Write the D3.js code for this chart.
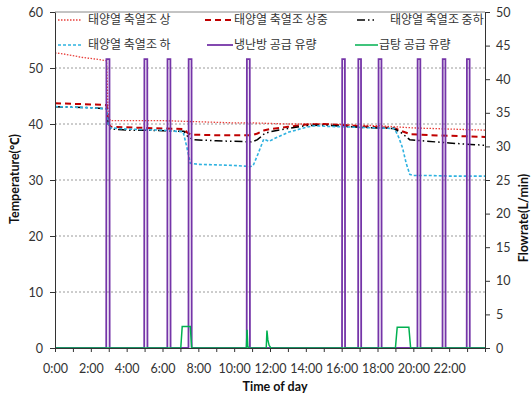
<!DOCTYPE html>
<html>
<head>
<meta charset="utf-8">
<script src="https://cdn.jsdelivr.net/npm/d3@7"></script>
<style>
  body { margin: 0; background: #fff; }
  svg { display: block; }
  .axis text { font-family: Lato, "Noto Sans", sans-serif; font-size: 12.5px; fill: #333; }
  .axis path, .axis line { stroke: #333; }
  .legend text { font-family: "Noto Sans CJK KR", sans-serif; font-size: 12px; fill: #333; }
  .title { font-family: Lato, "Noto Sans", "Noto Sans CJK KR", sans-serif; font-size: 12.5px; font-weight: bold; fill: #111; }
</style>
</head>
<body>
<div class="chart"></div>
<script>
// temperatures (℃) vs hour of day
const tankTop = [[0,52.7],[0.5,52.5],[1,52.2],[1.5,51.9],[2,51.7],[2.5,51.5],[2.88,51.3],[2.97,41.2],[3.1,40.6],[4,40.6],[5,40.6],[6,40.6],[7,40.5],[8,40.4],[9,40.3],[10,40.2],[11,40.2],[12,40.1],[13,40.0],[14,40.0],[15,40.0],[16,39.9],[17,39.8],[18,39.7],[19,39.5],[20,39.3],[21,39.2],[22,39.1],[23,39.0],[24,38.9]];
const tankUpperMid = [[0,43.7],[1,43.6],[2,43.5],[2.88,43.4],[2.97,40.2],[3.1,39.5],[4,39.4],[5,39.3],[6,39.2],[7.2,39.1],[7.4,38.4],[7.6,38.1],[9,38.0],[10,38.0],[11,38.0],[11.3,38.3],[11.7,38.9],[12,39.1],[13,39.5],[14,39.9],[15,40.0],[16,39.8],[17,39.6],[18,39.4],[18.9,39.3],[19.3,38.8],[19.8,38.2],[21,38.0],[22,37.9],[23,37.8],[24,37.7]];
const tankLowerMid = [[0,43.1],[1,43.0],[2,42.9],[2.88,42.7],[2.97,40.0],[3.1,39.1],[4,38.9],[5,38.9],[6,38.8],[7.2,38.7],[7.4,37.8],[7.7,37.2],[9,37.0],[10,36.9],[11,36.8],[11.3,37.2],[11.7,38.3],[12,38.6],[13,39.2],[14,39.7],[15,39.8],[16,39.6],[17,39.4],[18,39.3],[18.9,39.2],[19.3,38.5],[19.8,37.2],[20.5,37.0],[22,36.6],[23,36.4],[24,36.2]];
const tankBottom = [[0,43.1],[1,43.0],[2,42.9],[2.88,42.7],[2.97,40.0],[3.1,39.3],[4,39.1],[5,39.0],[6,38.9],[7.15,38.6],[7.35,36.0],[7.55,33.0],[8,32.8],[9,32.7],[10,32.6],[10.9,32.4],[11.05,32.5],[11.35,34.8],[11.65,37.3],[11.95,36.9],[12.25,37.4],[13,38.5],[14,39.4],[14.5,39.7],[15,39.6],[16,39.5],[17,39.4],[18,39.3],[18.95,39.2],[19.2,37.5],[19.4,35.7],[19.6,33.0],[19.8,31.0],[20,30.8],[21,30.8],[22,30.7],[23,30.7],[24,30.7]];

// flow rates (L/min)
const coolFlow = [[0,0],[2.86,0],[2.87,43],[3.04,43],[3.05,0],[4.98,0],[4.99,43],[5.15,43],[5.16,0],[6.27,0],[6.28,43],[6.44,43],[6.45,0],[7.45,0],[7.46,43],[7.62,43],[7.63,0],[10.7,0],[10.71,43],[10.87,43],[10.88,0],[16.02,0],[16.03,43],[16.18,43],[16.19,0],[16.92,0],[16.93,43],[17.08,43],[17.09,0],[18.05,0],[18.06,43],[18.22,43],[18.23,0],[20.23,0],[20.24,43],[20.39,43],[20.4,0],[21.63,0],[21.64,43],[21.79,43],[21.8,0],[22.98,0],[22.99,43],[23.14,43],[23.15,0],[24,0]];
const hotFlow = [[0,0],[7.02,0],[7.1,3.2],[7.55,3.2],[7.63,0],[10.68,0],[10.72,2.7],[10.76,0.3],[10.8,0],[11.79,0],[11.83,2.6],[11.88,1.2],[11.95,0.4],[12.05,0],[19.0,0],[19.1,3.1],[19.75,3.1],[19.85,0],[24,0]];

const hourTicks = d3.range(0, 25);
const tempTicks = [0, 10, 20, 30, 40, 50, 60];
const flowTicks = [0, 5, 10, 15, 20, 25, 30, 35, 40, 45, 50];

const series = [
  { name: '태양열 축열조 상', data: tankTop, axis: 'T', color: '#e8403c', width: 1.3, dash: '1.5,1.5' },
  { name: '태양열 축열조 상중', data: tankUpperMid, axis: 'T', color: '#c00000', width: 2, dash: '6,4' },
  { name: '태양열 축열조 중하', data: tankLowerMid, axis: 'T', color: '#000', width: 1.5, dash: '8,3,1.5,3,1.5,3' },
  { name: '태양열 축열조 하', data: tankBottom, axis: 'T', color: '#2fb2e0', width: 1.6, dash: '3,2' },
  { name: '냉난방 공급 유량', data: coolFlow, axis: 'F', color: '#7535a8', width: 1.8, dash: null },
  { name: '급탕 공급 유량', data: hotFlow, axis: 'F', color: '#00b050', width: 1.5, dash: null }
];

const width = 532, height = 394;
const margin = { top: 12, right: 47, bottom: 46, left: 55 };

const svg = d3.select('.chart').append('svg')
  .attr('width', width)
  .attr('height', height)
  .attr('xmlns', 'http://www.w3.org/2000/svg');

const x = d3.scaleLinear().domain([0, 24]).range([margin.left, width - margin.right]);
const y = d3.scaleLinear().domain([0, 60]).range([height - margin.bottom, margin.top]);
const yR = d3.scaleLinear().domain([0, 50]).range([height - margin.bottom, margin.top]);

// gridlines
svg.append('g')
  .selectAll('line')
  .data(tempTicks.filter(d => d > 0 && d < 60))
  .enter()
  .append('line')
  .attr('x1', x(0)).attr('x2', x(24))
  .attr('y1', d => y(d)).attr('y2', d => y(d))
  .attr('stroke', '#9a9a9a')
  .attr('stroke-dasharray', '2,2');

// top border
svg.append('line')
  .attr('x1', x(0)).attr('x2', x(24))
  .attr('y1', y(60)).attr('y2', y(60))
  .attr('stroke', '#888');

const line = d3.line();
series.forEach(s => {
  const sc = s.axis === 'T' ? y : yR;
  svg.append('path')
    .attr('d', line(s.data.map(d => [x(d[0]), sc(d[1])])))
    .attr('fill', 'none')
    .attr('stroke', s.color)
    .attr('stroke-width', s.width)
    .attr('stroke-dasharray', s.dash)
    .attr('stroke-linejoin', 'miter');
});

svg.append('g')
  .attr('class', 'axis')
  .attr('transform', 'translate(' + x(0) + ',0)')
  .call(d3.axisLeft(y).tickValues(tempTicks).tickSize(5).tickPadding(7).tickSizeOuter(0));

svg.append('g')
  .attr('class', 'axis')
  .attr('transform', 'translate(' + x(24) + ',0)')
  .call(d3.axisRight(yR).tickValues(flowTicks).tickSize(5).tickPadding(6).tickSizeOuter(0));

svg.append('g')
  .attr('class', 'axis')
  .attr('transform', 'translate(0,' + y(0) + ')')
  .call(d3.axisBottom(x).tickValues(hourTicks).tickSize(4).tickPadding(12).tickSizeOuter(0)
    .tickFormat(d => (d % 2 === 0 && d < 24) ? d + ':00' : ''));

// axis titles
svg.append('text')
  .attr('class', 'title')
  .attr('text-anchor', 'middle')
  .attr('x', 275)
  .attr('y', 391)
  .text('Time of day');

svg.append('text')
  .attr('class', 'title')
  .attr('text-anchor', 'middle')
  .attr('transform', 'translate(19,179) rotate(-90)')
  .text('Temperature(℃)');

svg.append('text')
  .attr('class', 'title')
  .attr('text-anchor', 'middle')
  .attr('transform', 'translate(528,218) rotate(-90)')
  .text('Flowrate(L/min)');

// legend
const legendPos = [
  { sx: 58, ex: 82, tx: 88, y: 20 },
  { sx: 205, ex: 232, tx: 234, y: 20 },
  { sx: 357, ex: 375, tx: 390, y: 20 },
  { sx: 58, ex: 82, tx: 88, y: 45 },
  { sx: 207, ex: 233, tx: 234, y: 45 },
  { sx: 355, ex: 378, tx: 379, y: 45 }
];
const lg = svg.append('g').attr('class', 'legend');
series.forEach((s, i) => {
  const p = legendPos[i];
  lg.append('line')
    .attr('x1', p.sx).attr('x2', p.ex)
    .attr('y1', p.y).attr('y2', p.y)
    .attr('stroke', s.color)
    .attr('stroke-width', s.width)
    .attr('stroke-dasharray', s.dash);
  lg.append('text')
    .attr('x', p.tx)
    .attr('y', p.y)
    .attr('dy', '0.36em')
    .text(s.name);
});
</script>
</body>
</html>
